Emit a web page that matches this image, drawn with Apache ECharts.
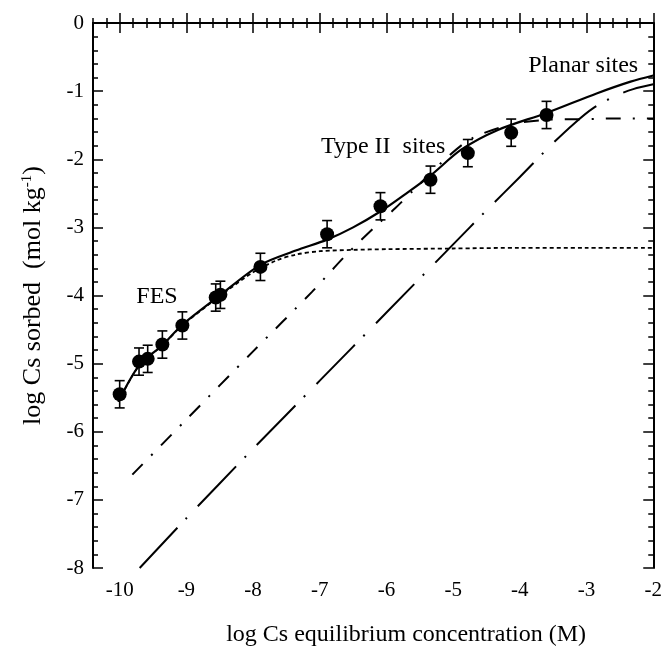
<!DOCTYPE html>
<html><head><meta charset="utf-8">
<script src="https://cdn.jsdelivr.net/npm/echarts@6/dist/echarts.min.js"></script>
<style>html,body{margin:0;padding:0;background:#fff}#c{width:665px;height:652px}</style>
</head><body><div id="c"></div>
<script>
// ---- data ----
const xTicks = [-10, -9, -8, -7, -6, -5, -4, -3, -2];
const yTicks = [0, -1, -2, -3, -4, -5, -6, -7, -8];

// measured points (log C, log sorbed) and error half-widths
const obsX = [-10.0, -9.71, -9.58, -9.36, -9.06, -8.56, -8.49, -7.89, -6.89, -6.09, -5.34, -4.78, -4.13, -3.60];
const obsY = [-5.45, -4.97, -4.93, -4.72, -4.44, -4.03, -3.99, -3.58, -3.10, -2.69, -2.30, -1.91, -1.61, -1.35];
const obsErr = [0.2, 0.2, 0.2, 0.2, 0.2, 0.2, 0.2, 0.2, 0.2, 0.2, 0.2, 0.2, 0.2, 0.2];

// model: total (solid)
const totalX = [-10.02, -9.71, -9.36, -9.06, -8.5, -7.89, -7.36, -6.89, -6.5, -6.08, -5.7, -5.34, -4.88, -4.33, -3.6, -2.84, -2.34, -2.0];
const totalY = [-5.56, -5.03, -4.73, -4.43, -4.0, -3.55, -3.34, -3.18, -3.0, -2.76, -2.50, -2.24, -1.86, -1.57, -1.32, -1.03, -0.86, -0.77];

// model: FES (dotted)
const fesX = [-10.02, -9.71, -9.36, -9.06, -8.5, -8.0, -7.66, -7.36, -7.0, -6.5, -6.0, -5.0, -4.0, -3.0, -2.0];
const fesY = [-5.56, -5.03, -4.73, -4.44, -4.01, -3.66, -3.49, -3.40, -3.35, -3.33, -3.32, -3.31, -3.30, -3.30, -3.30];

// model: Type II sites (dash-dot)
const t2X = [-9.81, -9.0, -8.0, -7.12, -6.62, -6.17, -5.87, -5.57, -5.12, -4.73, -4.13, -3.58, -3.0, -2.5, -2.0];
const t2Y = [-6.63, -5.82, -4.82, -3.95, -3.42, -2.99, -2.72, -2.43, -2.0, -1.70, -1.49, -1.42, -1.41, -1.40, -1.40];

// model: planar sites (long dash-dot)
const plX = [-9.70, -9.0, -8.0, -7.0, -6.0, -5.0, -4.5, -4.0, -3.53, -3.18, -2.9, -2.59, -2.3, -2.0];
const plY = [-8.0, -7.27, -6.25, -5.25, -4.25, -3.25, -2.75, -2.26, -1.79, -1.47, -1.25, -1.08, -0.97, -0.90];

// annotations
const annotText = ['FES', 'Type II  sites', 'Planar sites'];
const annotX = [-9.44, -6.05, -3.05];
const annotY = [-4.02, -1.81, -0.62];

// ---- chart ----
const FONT = '"Liberation Serif", "Times New Roman", serif';
const zip = (a, b) => a.map((v, i) => [v, b[i]]);
const black = '#000';

function xAx(position, major, extra) {
  return Object.assign({
    type: 'value', position, min: -10.4, max: -2,
    axisLine: { show: !major, lineStyle: { color: black, width: 2 } },
    axisTick: major ? { show: true, inside: true, length: 10, customValues: xTicks, lineStyle: { color: black, width: 1.5 } }
                    : { show: true, inside: true, length: 5, lineStyle: { color: black, width: 1.5 } },
    axisLabel: { show: false },
    splitLine: { show: false }
  }, major ? {} : { interval: 0.2 }, extra || {});
}
function yAx(position, major, extra) {
  return Object.assign({
    type: 'value', position, min: -8, max: 0,
    axisLine: { show: !major, lineStyle: { color: black, width: 2 } },
    axisTick: major ? { show: true, inside: true, length: 10, customValues: yTicks, lineStyle: { color: black, width: 1.5 } }
                    : { show: true, inside: true, length: 5, lineStyle: { color: black, width: 1.5 } },
    axisLabel: { show: false },
    splitLine: { show: false }
  }, major ? {} : { interval: 0.2 }, extra || {});
}

const chart = echarts.init(document.getElementById('c'), null, { renderer: 'canvas' });
chart.setOption({
  animation: false,
  backgroundColor: '#fff',
  grid: { left: 93, right: 9, top: 23, bottom: 81, containLabel: false },
  xAxis: [
    xAx('bottom', false, {
      axisLabel: { show: true, customValues: xTicks, fontFamily: FONT, fontSize: 21, color: black, margin: 12 },
      name: 'log Cs equilibrium concentration (M)',
      nameLocation: 'middle', nameGap: 55,
      nameTextStyle: { fontFamily: FONT, fontSize: 24, color: black, padding: [0, 0, 0, 66] }
    }),
    xAx('bottom', true),
    xAx('top', false),
    xAx('top', true)
  ],
  yAxis: [
    yAx('left', false, {
      axisLabel: { show: true, customValues: yTicks, fontFamily: FONT, fontSize: 21, color: black, margin: 9 },
      name: '{a|log Cs sorbed  (mol kg}{s|-1}{a|)}',
      nameLocation: 'middle', nameGap: 47, nameRotate: 90,
      nameTextStyle: {
        rich: {
          a: { fontFamily: FONT, fontSize: 26, color: black },
          s: { fontFamily: FONT, fontSize: 15, color: black, verticalAlign: 'top', lineHeight: 24 }
        }
      }
    }),
    yAx('left', true),
    yAx('right', false),
    yAx('right', true)
  ],
  series: [
    { type: 'line', name: 'FES', data: zip(fesX, fesY), showSymbol: false, smooth: 0.3,
      lineStyle: { color: black, width: 1.8, type: [4, 3] }, z: 2 },
    { type: 'line', name: 'Type II sites', data: zip(t2X, t2Y), showSymbol: false, smooth: 0.3,
      lineStyle: { color: black, width: 2, type: [15, 12, 2, 12] }, z: 2 },
    { type: 'line', name: 'Planar sites', data: zip(plX, plY), showSymbol: false, smooth: 0.3,
      lineStyle: { color: black, width: 2, type: [55, 12, 2, 16] }, z: 2 },
    { type: 'line', name: 'Total', data: zip(totalX, totalY), showSymbol: false, smooth: 0.3,
      lineStyle: { color: black, width: 2.2, type: 'solid' }, z: 3 },
    { type: 'custom', name: 'err', data: obsX.map((x, i) => [x, obsY[i], obsErr[i]]), z: 4,
      renderItem: function (params, api) {
        const x = api.value(0), y = api.value(1), e = api.value(2);
        const t = api.coord([x, y + e]), b = api.coord([x, y - e]);
        const hw = 5;
        const st = { stroke: black, lineWidth: 1.6 };
        return { type: 'group', children: [
          { type: 'line', shape: { x1: t[0], y1: t[1], x2: b[0], y2: b[1] }, style: st },
          { type: 'line', shape: { x1: t[0] - hw, y1: t[1], x2: t[0] + hw, y2: t[1] }, style: st },
          { type: 'line', shape: { x1: b[0] - hw, y1: b[1], x2: b[0] + hw, y2: b[1] }, style: st }
        ] };
      } },
    { type: 'scatter', name: 'Data', data: zip(obsX, obsY), symbol: 'circle', symbolSize: 14,
      itemStyle: { color: black, opacity: 1 }, z: 5 },
    { type: 'scatter', name: 'labels', data: annotX.map((x, i) => [x, annotY[i], annotText[i]]),
      symbolSize: 0.1, itemStyle: { color: 'transparent' }, silent: true, z: 6,
      label: { show: true, position: 'inside', formatter: p => p.data[2],
               fontFamily: FONT, fontSize: 24, color: black, opacity: 1 } }
  ]
});
</script>
</body></html>
